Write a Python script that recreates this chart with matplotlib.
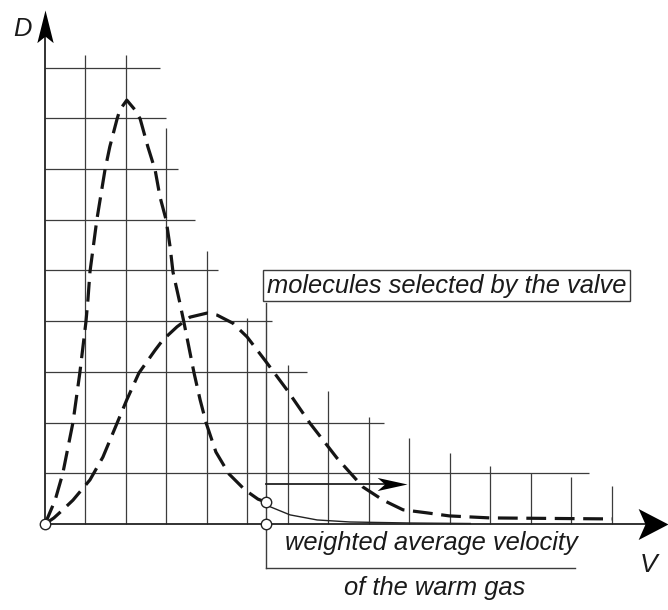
import numpy as np
import matplotlib.pyplot as plt
from matplotlib.path import Path

plt.rcParams['font.family'] = ['Liberation Sans', 'DejaVu Sans']

# grid, in units of the drawing (V across, D up)
grid_cols = np.arange(1, 15)
col_tops = [9.25, 9.25, 7.81, 5.38, 4.06, 3.14, 2.62, 2.11, 1.70, 1.40, 1.14, 1.01, 0.93, 0.75]
grid_rows = np.arange(1, 10)
row_ends = [13.43, 8.37, 6.47, 5.60, 4.27, 3.70, 3.28, 2.99, 2.84]

# cold gas: narrow, tall peak
cold_v = [0, 0.25, 0.44, 0.69, 0.86, 1.01, 1.06, 1.11, 1.28, 1.48, 1.60, 1.78, 1.85, 2.02,
          2.22, 2.35, 2.54, 2.72, 2.84, 2.99, 3.09, 3.16, 3.33, 3.43, 3.68, 3.83, 3.98,
          4.22, 4.54, 4.94, 5.26, 5.46]
cold_d = [0, 0.47, 1.00, 2.00, 2.98, 3.98, 4.42, 4.97, 6.00, 6.98, 7.44, 7.99, 8.17, 8.36,
          8.17, 7.99, 7.44, 6.98, 6.45, 6.00, 5.46, 4.97, 4.36, 3.98, 2.98, 2.45, 1.99,
          1.42, 0.99, 0.67, 0.49, 0.43]

# cold gas beyond the valve (thin line)
tail_v = [5.46, 5.56, 6.05, 6.72, 7.53, 9.0, 10.5]
tail_d = [0.43, 0.34, 0.18, 0.08, 0.04, 0.02, 0.01]

# warm gas: broad, low peak
warm_v = [0, 0.22, 0.44, 0.69, 1.11, 1.43, 1.78, 2.02, 2.32, 2.72, 2.91, 3.26, 3.58, 4.00,
          4.25, 4.64, 4.99, 5.43, 5.98, 6.54, 7.21, 7.85, 8.35, 8.84, 9.43, 9.98, 10.99, 14.0]
warm_d = [0, 0.12, 0.28, 0.47, 0.87, 1.32, 1.99, 2.45, 2.98, 3.43, 3.63, 3.89, 4.08, 4.16,
          4.12, 3.96, 3.69, 3.23, 2.64, 1.99, 1.30, 0.73, 0.47, 0.28, 0.22, 0.16, 0.12, 0.10]

valve_v = 5.46
valve_d = 0.43
selected_d = 0.79
selected_end = 8.94

fig = plt.figure(figsize=(6.68, 6.10), dpi=100)
fig.patch.set_facecolor('white')
ax = fig.add_axes([0, 0, 1, 1])
ax.set_xlim(-1.111, 15.383)
ax.set_ylim(-1.696, 10.335)
ax.axis('off')

grid_kw = dict(color='#3c3c3c', linewidth=0.9, zorder=1)
ax.vlines(grid_cols, 0, col_tops, **grid_kw)
ax.hlines(grid_rows, 0, row_ends, **grid_kw)

# axes with dart-shaped heads
x_tip, y_tip = 15.38, 10.14
ax.plot([0, x_tip - 0.4], [0, 0], color='#222222', lw=1.3, zorder=2)
ax.plot([0, 0], [0, y_tip - 0.4], color='#222222', lw=1.3, zorder=2)
codes = [Path.MOVETO, Path.LINETO, Path.LINETO, Path.LINETO, Path.CLOSEPOLY]
dart_x = Path([(0, 0), (-1, 0.52), (-0.77, 0), (-1, -0.52), (0, 0)], codes)
dart_y = Path([(0, 0), (-0.25, -1), (0, -0.8), (0.25, -1), (0, 0)], codes)
dart_s = Path([(0, 0), (-1, 0.22), (-0.75, 0), (-1, -0.22), (0, 0)], codes)
ax.plot([x_tip], [0], marker=dart_x, markersize=43, color='black', mew=0, zorder=3)
ax.plot([0], [y_tip], marker=dart_y, markersize=47, color='black', mew=0, zorder=3)

# curves
ax.plot(cold_v, cold_d, color='#151515', lw=2.3, dashes=(6.2, 2.7), zorder=4)
ax.plot(warm_v, warm_d, color='#151515', lw=2.3, dashes=(6.2, 2.7), zorder=4)
ax.plot(tail_v, tail_d, color='#222222', lw=1.0, zorder=4)

# valve line and the arrow of the selected molecules
ax.plot([valve_v, valve_v], [-0.87, 4.36], color='#3c3c3c', lw=1.0, zorder=2)
ax.plot([valve_v, 13.09], [-0.87, -0.87], color='#3c3c3c', lw=1.0, zorder=2)
ax.plot([valve_v, selected_end - 0.3], [selected_d, selected_d], color='#222222', lw=1.3, zorder=3)
ax.plot([selected_end], [selected_d], marker=dart_s, markersize=43, color='black', mew=0, zorder=3)

# circles
ax.plot([0, valve_v, valve_v], [0, 0, valve_d], linestyle='none', marker='o', markersize=7.5,
        mfc='white', mec='#222222', mew=1.0, zorder=6)

txt_kw = dict(fontsize=18.4, style='italic', color='#1a1a1a')
ax.text(5.48, 4.56, 'molecules selected by the valve', ha='left', va='baseline',
        bbox=dict(boxstyle='square,pad=0.14', fc='white', ec='#3c3c3c', lw=1.0), zorder=5, **txt_kw)
ax.text(5.93, -0.51, 'weighted average velocity', ha='left', va='baseline', **txt_kw)
ax.text(9.63, -1.40, 'of the warm gas', ha='center', va='baseline', **txt_kw)
ax.text(-0.79, 9.63, 'D', ha='left', va='baseline', **txt_kw)
ax.text(14.69, -0.95, 'V', ha='left', va='baseline', fontsize=19, style='italic', color='#1a1a1a')

plt.savefig('out.png', dpi=100, facecolor='white')
